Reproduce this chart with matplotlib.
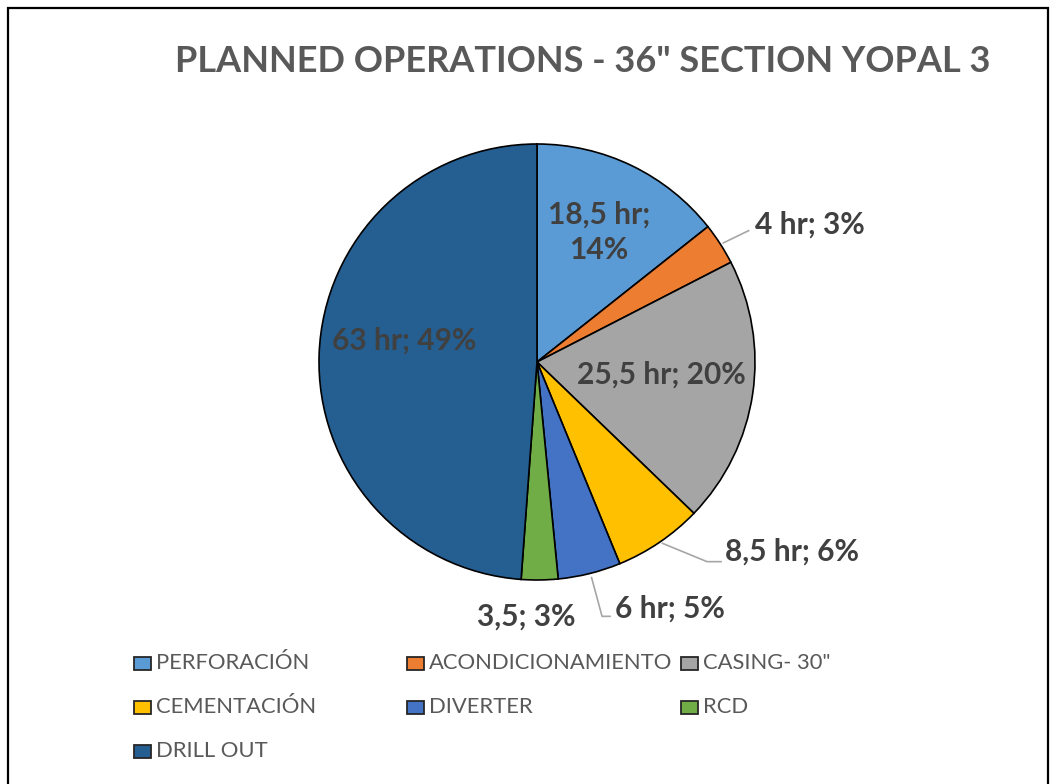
import matplotlib
matplotlib.use("Agg")
import matplotlib.pyplot as plt
from matplotlib.patches import Rectangle
import numpy as np

categories = ["PERFORACIÓN", "ACONDICIONAMIENTO", "CASING- 30\"", "CEMENTACIÓN",
              "DIVERTER", "RCD", "DRILL OUT"]
hours = [18.5, 4, 25.5, 8.5, 6, 3.5, 63]
label_texts = ["18,5 hr;\n14%", "4 hr; 3%", "25,5 hr; 20%", "8,5 hr; 6%",
               "6 hr; 5%", "3,5; 3%", "63 hr; 49%"]
colors = ["#5B9BD5", "#ED7D31", "#A5A5A5", "#FFC000", "#4472C4", "#70AD47", "#255E91"]

# label placement (in radius units relative to pie centre)
label_pos = [(0.285, 0.595), (1.25, 0.63), (0.57, -0.06), (1.17, -0.87),
             (0.61, -1.13), (-0.05, -1.17), (-0.61, 0.10)]
leader = [None, "straight", None, "elbow", "elbowdown", None, None]

W, H = 1056, 784
fig = plt.figure(figsize=(W / 100, H / 100), dpi=100)
ax = fig.add_axes([0, 0, 1, 1])

FONT = "Lato"
cx, cy, R = 537, H - 362, 218

wedges, _ = ax.pie(hours, colors=colors, startangle=90, counterclock=False,
                   center=(cx, cy), radius=R, frame=True,
                   wedgeprops=dict(edgecolor="black", linewidth=1.2))
ax.set_xlim(0, W)
ax.set_ylim(0, H)
ax.set_aspect("equal")
ax.axis("off")

txtcol = "#404040"
texts = []
for w, t, (fx, fy) in zip(wedges, label_texts, label_pos):
    tx, ty = cx + fx * R, cy + fy * R
    texts.append(ax.text(tx, ty, t, ha="center", va="center", fontsize=21.5,
                         fontweight="bold", color=txtcol, family=FONT,
                         linespacing=1.3))

fig.canvas.draw()
renderer = fig.canvas.get_renderer()
inv = ax.transData.inverted()
lc = "#A6A6A6"
for w, txt, ld in zip(wedges, texts, leader):
    if ld is None:
        continue
    bb = txt.get_window_extent(renderer).transformed(inv)
    left = bb.x0
    tyc = (bb.y0 + bb.y1) / 2
    mid = np.deg2rad((w.theta1 + w.theta2) / 2)
    ex, ey = cx + R * np.cos(mid), cy + R * np.sin(mid)
    if ld == "straight":
        ax.plot([ex + 3, left - 6], [ey + 1, tyc - 6], color=lc, lw=1.2)
    elif ld == "elbow":
        ax.plot([ex + 3, left - 18, left - 4], [ey - 1, tyc - 10, tyc - 10],
                color=lc, lw=1.2)
    elif ld == "elbowdown":
        ax.plot([ex + 2, left - 13, left - 5], [ey - 4, tyc - 8, tyc - 8],
                color=lc, lw=1.2)

# title
fig.text(583 / W, 1 - 62 / H, "PLANNED OPERATIONS - 36\" SECTION YOPAL 3",
         ha="center", va="center", fontsize=26, fontweight="bold",
         color="#595959", family=FONT)

# legend (row-major, Excel style)
mark_x = [134, 407, 681]
leg_y = [663, 707, 751]
for i, (cat, col) in enumerate(zip(categories, colors)):
    r, c = divmod(i, 3)
    x, y = mark_x[c], leg_y[r]
    fig.patches.append(Rectangle((x / W, 1 - (y + 6.5) / H), 17 / W, 13 / H,
                                 transform=fig.transFigure, facecolor=col,
                                 edgecolor="#262626", linewidth=1.3))
    fig.text((x + 22) / W, 1 - y / H, cat, ha="left", va="center",
             fontsize=15.8, color="#595959", family=FONT)

# chart border (Excel chart area)
fig.patches.append(Rectangle((8 / W, -0.05), (1048 - 8) / W, 1.05 - 8 / H,
                             transform=fig.transFigure, facecolor="none",
                             edgecolor="black", linewidth=1.6))

fig.savefig("out.png", dpi=100, facecolor="white")
